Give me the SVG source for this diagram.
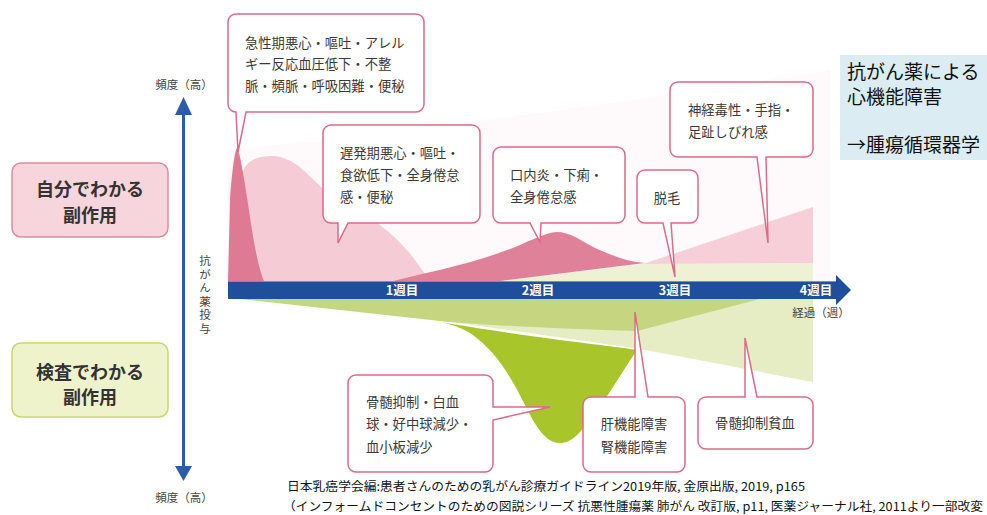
<svg xmlns="http://www.w3.org/2000/svg" width="987" height="515" viewBox="0 0 987 515">
<style>
text{font-family:"Noto Sans CJK JP","Noto Sans",sans-serif;}
.co{fill:#fff;stroke:#dc6a88;stroke-width:1.5;}
.ct{font-size:13.3px;fill:#3a3a3a;}
.ax{font-size:12.5px;fill:#fff;font-weight:bold;text-anchor:middle;}
.lb{font-size:11.5px;fill:#444;}
.big{font-size:18px;font-weight:bold;fill:#333;text-anchor:middle;}
.info{font-size:19px;fill:#111;}
.ft{font-size:12px;fill:#111;}
</style>
<rect width="987" height="515" fill="#fff"/>
<g id="areas">
<path d="M228,281 V150 Q520,120 830,70 V281 Z" fill="#fefafb"/>
<path d="M238,281 L242,175 C245,160 258,156 272,156 C295,156 310,178 330,195 C360,212 385,225 405,248 C418,262 424,275 432,281 Z" fill="#f5cbd5"/>
<path d="M500,281 L643,264 L813,263 L813,281 Z" fill="#eef1d3"/>
<path d="M643,264 L813,207 L813,263 Z" fill="#f6cfd8"/>
<path d="M393,281 C430,272 480,262 520,245 C540,236 550,232 557,232 C570,232 580,240 595,248 C615,257 630,262 645,263 L500,281 Z" fill="#df8299"/>
<path d="M228,281 L230,200 C232,170 235,150 237,148 C240,150 246,190 252,230 C256,255 260,272 264,281 Z" fill="#de7a94"/>
<path d="M420,318 L520,299 L813,299 L813,382 C740,368 660,352 620,346 C540,335 470,324 420,318 Z" fill="#e6ecc3"/>
<path d="M240,299 L760,299 L637,331 C560,329 480,325 440,321 Z" fill="#c6d680"/>
<path d="M440,322 C470,327 520,335 560,340 C600,345 625,348 637,350 C620,375 600,410 580,432 C572,441 565,443 560,443 C545,443 535,425 525,405 C510,375 495,350 470,333 C460,327 450,324 440,322 Z" fill="#a9c52c"/>
</g>
<g id="time-axis">
<rect x="228" y="281" width="610" height="18" fill="#1f4f9b"/>
<line x1="228" y1="281.5" x2="838" y2="281.5" stroke="#6a92cc" stroke-width="1"/>
<polygon points="836,275 851,290 836,305" fill="#1f4f9b"/>
<text class="ax" x="402" y="295">1週目</text>
<text class="ax" x="538" y="295">2週目</text>
<text class="ax" x="675" y="295">3週目</text>
<text class="ax" x="816" y="295">4週目</text>
<text class="lb" x="821" y="317" text-anchor="middle">経過（週）</text>
</g>
<g id="frequency-axis">
<line x1="183.5" y1="112" x2="183.5" y2="468" stroke="#2b5ca8" stroke-width="3"/>
<polygon points="183.5,97 175,115 192,115" fill="#2b5ca8"/>
<polygon points="183.5,481 175,466 192,466" fill="#2b5ca8"/>
<text class="lb" x="184" y="89" text-anchor="middle">頻度（高）</text>
<text class="lb" x="184" y="502" text-anchor="middle">頻度（高）</text>
<text class="lb" x="205" y="255" font-size="12" style="writing-mode:vertical-rl;letter-spacing:2px">抗がん薬投与</text>
</g>
<g id="self-aware">
<rect x="12" y="163" width="156" height="74" rx="9" fill="#f6d5dc" stroke="#dc8ea0" stroke-width="1.5"/>
<text class="big" x="90" y="196">自分でわかる</text>
<text class="big" x="90" y="222">副作用</text>
</g>
<g id="test-detected">
<rect x="12" y="343" width="156" height="74" rx="9" fill="#eff3cc" stroke="#c9d66d" stroke-width="1.5"/>
<text class="big" x="90" y="379">検査でわかる</text>
<text class="big" x="90" y="404">副作用</text>
</g>
<g id="callout-acute">
<path class="co" d="M236,14 H416 A8,8 0 0 1 424,22 V104 A8,8 0 0 1 416,112 H246 L238,152 L236,112 A8,8 0 0 1 228,104 V22 A8,8 0 0 1 236,14 Z"/>
<text class="ct" x="245" y="48">急性期悪心・嘔吐・アレル</text>
<text class="ct" x="245" y="69">ギー反応血圧低下・不整</text>
<text class="ct" x="245" y="91">脈・頻脈・呼吸困難・便秘</text>
</g>
<g id="callout-delayed">
<path class="co" d="M331,125 H472 A8,8 0 0 1 480,133 V215 A8,8 0 0 1 472,223 H348 L338,243 L338,223 H331 A8,8 0 0 1 323,215 V133 A8,8 0 0 1 331,125 Z"/>
<text class="ct" x="340" y="158">遅発期悪心・嘔吐・</text>
<text class="ct" x="340" y="180">食欲低下・全身倦怠</text>
<text class="ct" x="340" y="202">感・便秘</text>
</g>
<g id="callout-mucositis">
<path class="co" d="M501,147 H617 A8,8 0 0 1 625,155 V215 A8,8 0 0 1 617,223 H541 L540,242 L530,223 H501 A8,8 0 0 1 493,215 V155 A8,8 0 0 1 501,147 Z"/>
<text class="ct" x="510" y="180">口内炎・下痢・</text>
<text class="ct" x="510" y="202">全身倦怠感</text>
</g>
<g id="callout-alopecia">
<path class="co" d="M645,170 H690 A8,8 0 0 1 698,178 V215 A8,8 0 0 1 690,223 H671 L675,277 L663,223 H645 A8,8 0 0 1 637,215 V178 A8,8 0 0 1 645,170 Z"/>
<text class="ct" x="667" y="203" text-anchor="middle">脱毛</text>
</g>
<g id="callout-neuro">
<path class="co" d="M678,82 H805 A8,8 0 0 1 813,90 V149 A8,8 0 0 1 805,157 H766 L768,243 L757,157 H678 A8,8 0 0 1 670,149 V90 A8,8 0 0 1 678,82 Z"/>
<text class="ct" x="688" y="115">神経毒性・手指・</text>
<text class="ct" x="688" y="137">足趾しびれ感</text>
</g>
<g id="callout-marrow">
<path class="co" d="M356,375 H485 A8,8 0 0 1 493,383 V407 L550,407 L493,420 V464 A8,8 0 0 1 485,472 H356 A8,8 0 0 1 348,464 V383 A8,8 0 0 1 356,375 Z"/>
<text class="ct" x="366" y="407">骨髄抑制・白血</text>
<text class="ct" x="366" y="429">球・好中球減少・</text>
<text class="ct" x="366" y="452">血小板減少</text>
</g>
<g id="callout-organ">
<path class="co" d="M591,397 H635 V312 L648,397 H677 A8,8 0 0 1 685,405 V464 A8,8 0 0 1 677,472 H591 A8,8 0 0 1 583,464 V405 A8,8 0 0 1 591,397 Z"/>
<text class="ct" x="634" y="429" text-anchor="middle">肝機能障害</text>
<text class="ct" x="634" y="452" text-anchor="middle">腎機能障害</text>
</g>
<g id="callout-anemia">
<path class="co" d="M706,397 H745 V338 L757,397 H805 A8,8 0 0 1 813,405 V441 A8,8 0 0 1 805,449 H706 A8,8 0 0 1 698,441 V405 A8,8 0 0 1 706,397 Z"/>
<text class="ct" x="755" y="428" text-anchor="middle">骨髄抑制貧血</text>
</g>
<g id="info-box">
<rect x="840" y="55" width="147" height="105" fill="#dbedf3"/>
<text class="info" x="847" y="79">抗がん薬による</text>
<text class="info" x="847" y="104">心機能障害</text>
<text class="info" x="847" y="152">→腫瘍循環器学</text>
</g>
<g id="footer">
<text class="ft" x="287" y="491" textLength="518" lengthAdjust="spacingAndGlyphs">日本乳癌学会編:患者さんのための乳がん診療ガイドライン2019年版, 金原出版, 2019, p165</text>
<text class="ft" x="283" y="511" textLength="700" lengthAdjust="spacingAndGlyphs">（インフォームドコンセントのための図説シリーズ 抗悪性腫瘍薬 肺がん 改訂版, p11, 医薬ジャーナル社, 2011より一部改変</text>
</g>
</svg>
